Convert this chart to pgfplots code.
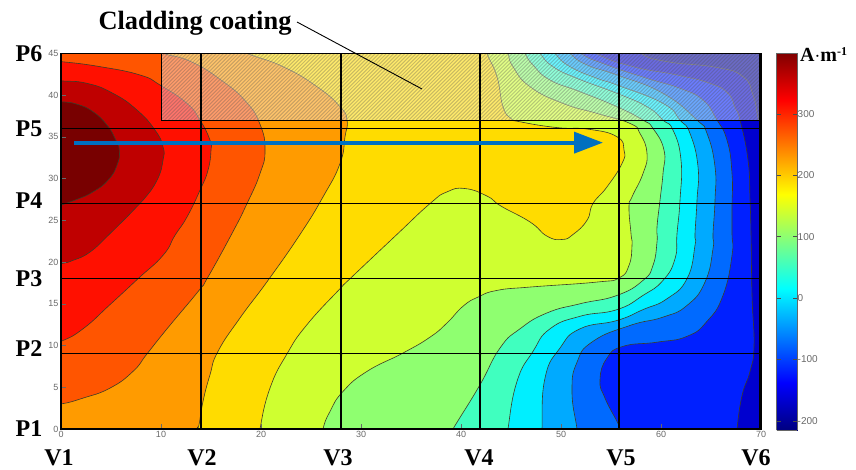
\documentclass[border=0pt]{standalone}
\usepackage{pgfplots}
\pgfplotsset{compat=1.18}
\usepackage{fontspec}
\setmainfont{Liberation Serif}
\setsansfont{Liberation Sans}
\usetikzlibrary{arrows.meta}
\definecolor{czz}{RGB}{0,0,160}
\definecolor{cA}{RGB}{0,0,207}
\definecolor{cB}{RGB}{0,32,255}
\definecolor{cC}{RGB}{0,106,255}
\definecolor{cD}{RGB}{0,170,255}
\definecolor{cE}{RGB}{0,239,255}
\definecolor{cF}{RGB}{64,255,191}
\definecolor{cG}{RGB}{143,255,112}
\definecolor{cH}{RGB}{207,255,48}
\definecolor{cI}{RGB}{255,220,0}
\definecolor{cJ}{RGB}{255,155,0}
\definecolor{cK}{RGB}{255,85,0}
\definecolor{cL}{RGB}{255,16,0}
\definecolor{cM}{RGB}{191,0,0}
\definecolor{cN}{RGB}{120,0,0}
\definecolor{lbl}{RGB}{105,105,105}
\definecolor{cline}{RGB}{60,60,40}
\pgfplotsset{
  band/.style={smooth, tension=0.85, fill=#1, draw=cline, line width=0.6pt, no markers},
  grd/.style={black, line width=1.2pt, no markers, forget plot},
}
\begin{document}
\begin{tikzpicture}[x=1pt,y=1pt]
\useasboundingbox (0,0) rectangle (856,469);
\begin{axis}[
  at={(61pt,40pt)}, anchor=south west, scale only axis,
  width=700pt, height=375.7pt,
  xmin=0, xmax=70, ymin=0, ymax=45,
  xtick={0,10,...,70}, ytick={0,5,...,45},
  tick align=inside, tick pos=left,
  major tick length=5pt,
  tick style={lbl, line width=0.5pt},
  axis line style={black, line width=1.2pt},
  axis on top,
  /pgf/number format/assume math mode=true,
  tick label style={font=\fontsize{9}{10}\sffamily, text=lbl},
  xticklabel style={yshift=1pt},
  yticklabel style={xshift=1pt},
]
% base field
\addplot[fill=cA, draw=none, no markers] coordinates {(-5,-5) (75,-5) (75,50) (-5,50)};
% darkest corner, top right of the coating
\addplot[band=czz] coordinates {(-20,60) (56,50) (56.5,47) (58,45) (60.6,44) (65.6,43.3) (68.2,42.2) (69.2,40) (69.7,37.3) (70,36) (72,34) (90,30) (90,60)};
\addplot[fill=cA, draw=none, no markers] coordinates {(-5,-5) (75,-5) (75,37) (-5,37)};
% dark blue / blue
\addplot[band=cB] coordinates {(-20,60) (51,50) (51.5,47) (53.5,45) (57.2,43.4) (61.6,42.4) (64.9,41.4) (66.7,40.2) (67.4,38.5) (67.9,37) (68.7,32.2) (68.9,27.4) (69,23.4) (69.1,16) (69.3,10) (68.9,6.9) (68.1,4) (67.6,0) (67.5,-2) (67.5,-5) (-20,-10)};
% blue / 110
\addplot[band=cC] coordinates {(-20,60) (50,50) (50.5,47) (52,45) (54.6,43.6) (58.6,42) (61.9,40.8) (64.2,39.4) (65.5,37.2) (66.6,34.6) (67.1,30.6) (67.1,26.6) (67.1,23.4) (67.1,20.8) (66.2,16) (64.6,12.9) (62.6,11.1) (59.6,10.4) (56.2,9.9) (54.6,8.5) (53.9,5.9) (54.4,3.7) (55.6,0.9) (55.9,0) (56.2,-2) (56.2,-5) (-20,-10)};
% 110 / 170
\addplot[band=cD] coordinates {(-20,60) (49,50) (49.5,47) (50.9,45) (52.6,43.6) (55.6,42.4) (60.2,40.2) (63.6,37) (64.6,35.4) (65.4,31.4) (65.4,27.4) (65.2,23.4) (65.2,21.6) (64.4,17.6) (62.6,14.8) (60.2,13.4) (56.9,12.4) (53.2,10.5) (51.6,8) (51.1,4.5) (51.6,0) (51.8,-2) (51.8,-5) (-20,-10)};
% 170 / cyan
\addplot[band=cE] coordinates {(-20,60) (48,50) (48.3,47) (49.4,45) (50.9,43.4) (53.6,42) (55.6,41.2) (60.2,39) (61.9,37) (62.9,35.4) (63.7,31.4) (63.6,27.4) (63.4,23.4) (63.4,22) (62.6,18) (60.6,15.6) (58.2,14.3) (55.6,13) (51.9,12) (49.9,9.7) (48.4,6.1) (48.1,0) (48.1,-2) (48.1,-5) (-20,-10)};
% cyan / teal
\addplot[band=cF] coordinates {(-20,60) (46.5,50) (46.8,47) (47.9,45) (49.2,43.4) (51.6,42) (55.6,40.2) (58.6,38.6) (60.2,37) (61.2,35.8) (62,32.2) (61.9,27.4) (61.6,23.4) (61.4,20.4) (60.2,17.8) (58.2,16) (55.6,14.3) (51.9,13.5) (48.9,12) (47.2,9.3) (45.6,5.7) (44.7,0) (44.6,-2) (44.6,-5) (-20,-10)};
% teal / light green
\addplot[band=cG] coordinates {(-20,60) (45.3,50) (45.6,47) (46.4,45) (47.2,43.6) (48.9,41.8) (51.9,40.4) (55.6,38.6) (58.2,37) (59.2,36) (60.3,33.4) (60.2,30.6) (59.9,27.4) (59.6,24.2) (59.6,22.4) (59.2,19.6) (58.2,17.8) (55.6,16) (51.9,15) (48.6,13.9) (45.9,12) (43.9,9.7) (41.9,5.3) (39.6,0.8) (39.2,0) (38.2,-2) (37.5,-5) (-20,-10)};
% light green / lime
\addplot[band=cH] coordinates {(-20,60) (44,50) (44.2,47) (44.7,45) (45.2,43.4) (46.9,41) (50.2,39) (53.6,37.8) (56.9,36.6) (57.9,35.4) (58.6,33) (58.2,30.6) (57.1,27.8) (56.8,26.6) (57,23.4) (57.1,22) (56.8,19.6) (55.8,18.1) (53.6,17.6) (46.9,17) (43.6,16.6) (41.7,15.8) (40.2,14.7) (38.6,12.7) (36.9,11) (34.2,9.1) (30.6,6.9) (28.2,4.5) (26.9,2.1) (26.2,0) (26,-2) (26,-5) (-20,-10)};
% lime / gold
\addplot[band=cI] coordinates {(-20,60) (42,50) (42.2,47) (42.6,45) (43.6,42.2) (44.2,38.6) (45,37.2) (45.9,36.8) (49.6,36.1) (52.8,35.9) (55.6,35) (56.3,33.4) (56.1,31.8) (54.6,29) (53.2,27) (52.6,25) (51.2,23.3) (50.1,22.7) (48.6,23.1) (46.9,24.8) (44,26.7) (42.6,27.9) (40.4,28.8) (38.6,28.4) (36.9,27) (33.5,23.2) (28.9,18) (27.9,16.8) (24.6,12.5) (22.6,9) (20.9,4.9) (19.9,0) (19.8,-2) (19.8,-5) (-20,-10)};
% gold / orange
\addplot[band=cJ] coordinates {(-20,60) (14,48) (16,46.5) (18.6,45) (22.2,43.4) (25.6,41) (27.9,38.6) (28.6,37) (28.4,35) (27.9,31.8) (26.2,27.8) (23.9,23.3) (20.7,17.8) (17.9,13.3) (15.7,9.3) (14.9,6.5) (14.2,3.3) (13.8,0.5) (13.6,0) (13.4,-2) (13.4,-5) (-20,-10)};
% orange / orange-red
\addplot[band=cK] coordinates {(-20,60) (6,48) (8,46) (10.2,45) (13,44) (16,41.8) (18.5,39.2) (19.9,36.5) (20.4,33.4) (19.9,30.6) (18.6,27) (17,23.2) (14.6,18) (13.8,16.6) (10.6,12) (8.6,9) (7.2,6.9) (4.9,4.9) (2.2,3.7) (0,3) (-2,2.8) (-5,2.6) (-20,2)};
% orange-red / red
\addplot[band=cL] coordinates {(-20,45) (-5,44.3) (-2,44.1) (0,44) (3.9,43.4) (7.9,42.4) (9.9,41.2) (12.6,39) (13.9,37) (14.9,34.6) (15,33.4) (14.7,31) (13.9,28.6) (12.6,25.4) (11.4,23.2) (10.2,20.8) (7.7,18) (4.9,14.9) (2.2,12) (0,10.5) (-2,9.8) (-5,9.4) (-20,9)};
% red / dark red
\addplot[band=cM] coordinates {(-20,42.5) (-5,42) (-2,41.9) (0,41.7) (2.6,41.4) (5.2,40.2) (7.6,38.2) (9.4,35.8) (10.2,33.8) (10.2,32.2) (9.6,29.8) (8.2,27.4) (6.6,25.4) (4.9,23.4) (2.9,21.2) (1.2,20.2) (0,19.8) (-2,19.4) (-5,19) (-20,18)};
% dark red / maroon
\addplot[band=cN] coordinates {(-20,40) (-5,39.5) (-2,39.3) (0,39.2) (1.6,38.9) (3.2,38) (4.6,36.4) (5.4,34.8) (5.83,33.4) (5.6,31.6) (4.7,29.8) (3.2,28.4) (1.6,27.5) (0,26.8) (-2,26.4) (-5,26) (-20,25)};
% cladding coating overlay: pale veil and fine hatching
\addplot[fill=white, fill opacity=0.42, draw=none, no markers, forget plot] coordinates {(10,37) (70,37) (70,45) (10,45)};
\begin{scope}
\clip (axis cs:10,37) rectangle (axis cs:70,45);
\pgfplotsinvokeforeach{3.32,3.69,...,70}{
  \draw[black!70, draw opacity=0.30, line width=1pt] (axis cs:#1,37) -- (axis cs:{#1+6.68},45);
}
\end{scope}
\addplot[draw=black, line width=1pt, no markers, forget plot]
  coordinates {(10,45) (10,37) (70,37) (70,45)};
% grid of the measuring points
\addplot[grd] coordinates {(14,0) (14,45)};
\addplot[grd] coordinates {(28,0) (28,45)};
\addplot[grd] coordinates {(41.9,0) (41.9,45)};
\addplot[grd] coordinates {(55.8,0) (55.8,45)};
\addplot[grd] coordinates {(69.9,0) (69.9,45)};
\addplot[grd, line width=1pt] coordinates {(0,9) (70,9)};
\addplot[grd, line width=1pt] coordinates {(0,18) (70,18)};
\addplot[grd, line width=1pt] coordinates {(0,27) (70,27)};
\addplot[grd, line width=1pt] coordinates {(0,36) (70,36)};
\addplot[only marks, mark=*, mark size=1.3pt, black, forget plot] coordinates {
 (14,9) (28,9) (41.9,9) (55.8,9) (14,18) (28,18) (41.9,18) (55.8,18)
 (14,27) (28,27) (41.9,27) (55.8,27) (14,36) (28,36) (41.9,36) (55.8,36)};
% arrow along the track
\addplot[color={rgb,255:red,0;green,112;blue,192}, line width=3.8pt, no markers, forget plot,
  -{Triangle[length=29pt,width=21pt]}] coordinates {(1.3,34.3) (54.2,34.3)};
\end{axis}
% colour bar
\begin{axis}[
  at={(776.7pt,39pt)}, anchor=south west, scale only axis,
  width=20.5pt, height=376.7pt,
  view={0}{90},
  xmin=0, xmax=1, ymin=-215, ymax=399,
  xtick=\empty, ytick={-200,-100,0,100,200,300},
  tick align=inside, tick pos=both, yticklabel pos=right,
  major tick length=4pt,
  tick style={black!70, line width=0.5pt},
  axis line style={black!60, line width=0.6pt},
  axis on top,
  colormap/jet,
  point meta min=-215, point meta max=399,
  /pgf/number format/assume math mode=true,
  tick label style={font=\fontsize{10}{11}\sffamily, text=lbl},
  yticklabel style={xshift=-3pt},
]
\addplot3[surf, shader=interp, point meta=y] coordinates {
 (0,-215,0) (1,-215,0)

 (0,399,0) (1,399,0)
};
\end{axis}
% text
\node[font=\fontsize{26.4}{28}\selectfont\bfseries, inner sep=0pt] at (195,445.5) {Cladding coating};
\draw[black, line width=0.9pt] (297,447) -- (422,380);
\foreach \t/\yy in {P6/415,P5/340,P4/268,P3/190,P2/120,P1/40}
  \node[font=\fontsize{24}{26}\selectfont\bfseries, inner sep=0pt] at (29,\yy) {\t};
\foreach \t/\xx in {V1/59,V2/202,V3/338,V4/479,V5/621,V6/756}
  \node[font=\fontsize{24}{26}\selectfont\bfseries, inner sep=0pt] at (\xx,11) {\t};
\node[font=\fontsize{20}{22}\selectfont\bfseries, anchor=west, inner sep=0pt] at (800,414) {A$\cdot$m\raisebox{6pt}{\fontsize{12}{13}\selectfont -1}};
\end{tikzpicture}
\end{document}
